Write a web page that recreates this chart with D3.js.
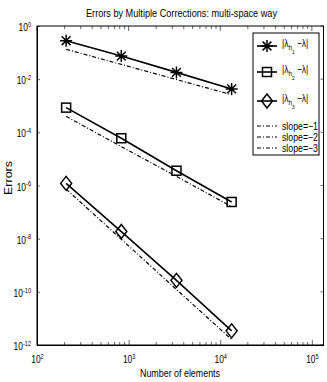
<!DOCTYPE html>
<html>
<head>
<meta charset="utf-8">
<script src="https://cdn.jsdelivr.net/npm/d3@7"></script>
<style>
  body { margin: 0; background: #fff; }
  text { font-family: "Liberation Sans", Arial, sans-serif; fill: #000; }
</style>
</head>
<body>
<div id="chart"></div>
<script>
// number of elements on each mesh
const elements = [208, 832, 3328, 13312]
// errors |lambda_h_k - lambda|
const err1 = [0.28, 0.074, 0.018, 0.0043]
const err2 = [8.5e-4, 6e-5, 3.6e-6, 2.4e-7]
const err3 = [1.2e-6, 1.85e-8, 2.7e-10, 3.4e-12]
// reference slope lines
const slope1 = [0.133, 0.036, 0.0097, 0.0026]
const slope2 = [4e-4, 2.9e-5, 2.2e-6, 1.6e-7]
const slope3 = [7.3e-7, 9.5e-9, 1.23e-10, 1.6e-12]

const xTicks = [1e2, 1e3, 1e4, 1e5]
const yTicks = [1e0, 1e-2, 1e-4, 1e-6, 1e-8, 1e-10, 1e-12]

const w = 327, h = 382
const margin = {left: 37, right: 3.5, top: 26, bottom: 37}
const width = w - margin.left - margin.right
const height = h - margin.top - margin.bottom
const squeeze = 0.8   // the original font is a narrow Helvetica

const svg = d3.select('#chart').append('svg')
  .attr('width', w)
  .attr('height', h)

const x = d3.scaleLog()
  .domain([100, 1.34e5])
  .range([0, width])

const y = d3.scaleLog()
  .domain([1e-12, 1])
  .range([height, 0])

const chart = svg.append('g')
  .attr('transform', 'translate(' + margin.left + ',' + margin.top + ')')

// minor x ticks
const xMinor = []
for (let e = 2; e < 5; e++) {
  for (let m = 2; m <= 9; m++) xMinor.push(m * Math.pow(10, e))
}

function sup(sel, exp) {
  sel.text(null)
  sel.append('tspan').text('10')
  sel.append('tspan').attr('dy', '-0.6em').style('font-size', '7px').text(exp)
}

function narrow(sel) {
  sel.each(function() {
    const t = d3.select(this)
    const x0 = +t.attr('x') || 0
    t.attr('x', x0 / squeeze).attr('transform', 'scale(' + squeeze + ',1)')
  })
}

// bottom axis
const xAxis = chart.append('g')
  .attr('transform', 'translate(0,' + height + ')')
  .call(d3.axisBottom(x).tickValues(xTicks).tickSizeInner(-5).tickSizeOuter(0).tickPadding(18))
xAxis.selectAll('text').style('font-size', '10.5px')
  .each(function(d) { sup(d3.select(this), Math.round(Math.log10(d))) })
xAxis.selectAll('.tick text').attr('dy', '0').call(narrow)

chart.append('g')
  .attr('transform', 'translate(0,' + height + ')')
  .selectAll('line').data(xMinor)
  .enter().append('line')
  .attr('x1', d => x(d)).attr('x2', d => x(d))
  .attr('y1', 0).attr('y2', -3)
  .attr('stroke', '#000').attr('stroke-width', 0.6)

// top ticks
const topTicks = chart.append('g')
topTicks.selectAll('line.maj').data(xTicks).enter().append('line')
  .attr('class', 'maj')
  .attr('x1', d => x(d)).attr('x2', d => x(d)).attr('y1', 0).attr('y2', 5)
  .attr('stroke', '#000').attr('stroke-width', 0.6)
topTicks.selectAll('line.min').data(xMinor).enter().append('line')
  .attr('class', 'min')
  .attr('x1', d => x(d)).attr('x2', d => x(d)).attr('y1', 0).attr('y2', 3)
  .attr('stroke', '#000').attr('stroke-width', 0.6)

// left axis
const yAxis = chart.append('g')
  .call(d3.axisLeft(y).tickValues(yTicks).tickSizeInner(-3).tickSizeOuter(0).tickPadding(6))
yAxis.selectAll('text').style('font-size', '10.5px')
  .each(function(d) { sup(d3.select(this), Math.round(Math.log10(d))) })
yAxis.selectAll('.tick text').attr('dy', '4.5').call(narrow)

// right ticks
chart.append('g').selectAll('line').data(yTicks).enter().append('line')
  .attr('x1', width).attr('x2', width - 3)
  .attr('y1', d => y(d)).attr('y2', d => y(d))
  .attr('stroke', '#000').attr('stroke-width', 0.6)

chart.selectAll('.domain').attr('stroke', '#000').attr('stroke-width', 1)
chart.selectAll('.tick line').attr('stroke', '#000').attr('stroke-width', 0.6)

// frame
chart.append('rect')
  .attr('width', width).attr('height', height)
  .attr('fill', 'none').attr('stroke', '#000').attr('stroke-width', 1)

const line = d3.line()
  .x(d => x(d[0]))
  .y(d => y(d[1]))

const series = [
  {vals: err1, marker: 'star'},
  {vals: err2, marker: 'square'},
  {vals: err3, marker: 'diamond'}
]
const slopes = [slope1, slope2, slope3]

const dash = '4,2,1,2'

slopes.forEach(s => {
  chart.append('path')
    .datum(elements.map((n, i) => [n, s[i]]))
    .attr('d', line)
    .attr('fill', 'none').attr('stroke', '#000')
    .attr('stroke-width', 1.2).attr('stroke-dasharray', dash)
})

function drawMarker(g, type, cx, cy) {
  if (type === 'star') {
    const r = 6, r2 = 4.4
    g.append('path')
      .attr('d', `M${cx - r},${cy}H${cx + r}M${cx},${cy - r}V${cy + r}` +
        `M${cx - r2},${cy - r2}L${cx + r2},${cy + r2}M${cx - r2},${cy + r2}L${cx + r2},${cy - r2}`)
      .attr('stroke', '#000').attr('stroke-width', 1.5).attr('fill', 'none')
  } else if (type === 'square') {
    g.append('rect')
      .attr('x', cx - 4.5).attr('y', cy - 4.5).attr('width', 9).attr('height', 9)
      .attr('stroke', '#000').attr('stroke-width', 1.5).attr('fill', 'none')
  } else {
    g.append('path')
      .attr('d', `M${cx},${cy - 7}L${cx + 5.5},${cy}L${cx},${cy + 7}L${cx - 5.5},${cy}Z`)
      .attr('stroke', '#000').attr('stroke-width', 1.5).attr('fill', 'none')
  }
}

series.forEach(s => {
  chart.append('path')
    .datum(elements.map((n, i) => [n, s.vals[i]]))
    .attr('d', line)
    .attr('fill', 'none').attr('stroke', '#000').attr('stroke-width', 1.6)
  const mg = chart.append('g')
  elements.forEach((n, i) => drawMarker(mg, s.marker, x(n), y(s.vals[i])))
})

// title and labels
svg.append('text')
  .attr('x', 86).attr('y', 17)
  .attr('textLength', 191).attr('lengthAdjust', 'spacingAndGlyphs')
  .style('font-size', '11.5px')
  .text('Errors by Multiple Corrections: multi-space way')

svg.append('text')
  .attr('x', 140).attr('y', 376.5)
  .attr('textLength', 80).attr('lengthAdjust', 'spacingAndGlyphs')
  .style('font-size', '11.5px')
  .text('Number of elements')

svg.append('text')
  .attr('transform', 'translate(11.5,178) rotate(-90)')
  .attr('x', -17)
  .attr('textLength', 34).attr('lengthAdjust', 'spacingAndGlyphs')
  .style('font-size', '11.5px')
  .text('Errors')

// legend
const legend = svg.append('g').attr('transform', 'translate(253,33)')
legend.append('rect')
  .attr('width', 66).attr('height', 122)
  .attr('fill', '#fff').attr('stroke', '#000').attr('stroke-width', 1)

const legRows = [13, 39, 68]
series.forEach((s, i) => {
  const ly = legRows[i]
  legend.append('line').attr('x1', 4).attr('x2', 24).attr('y1', ly).attr('y2', ly)
    .attr('stroke', '#000').attr('stroke-width', 1.6)
  drawMarker(legend, s.marker, 14, ly)
  const t = legend.append('text')
    .attr('transform', 'translate(29,' + (ly + 1) + ') scale(' + squeeze + ',1)')
    .style('font-size', '10.5px')
  t.append('tspan').text('|\u03bb')
  t.append('tspan').attr('dy', 3).style('font-size', '8px').text('h')
  t.append('tspan').attr('dy', 4).style('font-size', '6px').text(i + 1)
  t.append('tspan').attr('dy', -7).text(' \u2212\u03bb|')
})

const slopeRows = [93, 104, 115]
slopeRows.forEach((ly, i) => {
  legend.append('line').attr('x1', 4).attr('x2', 24).attr('y1', ly).attr('y2', ly)
    .attr('stroke', '#000').attr('stroke-width', 1).attr('stroke-dasharray', dash)
  legend.append('text').attr('x', 29).attr('y', ly + 3.5)
    .attr('textLength', 36).attr('lengthAdjust', 'spacingAndGlyphs')
    .style('font-size', '10.5px')
    .text('slope=\u2212' + (i + 1))
})
</script>
</body>
</html>
